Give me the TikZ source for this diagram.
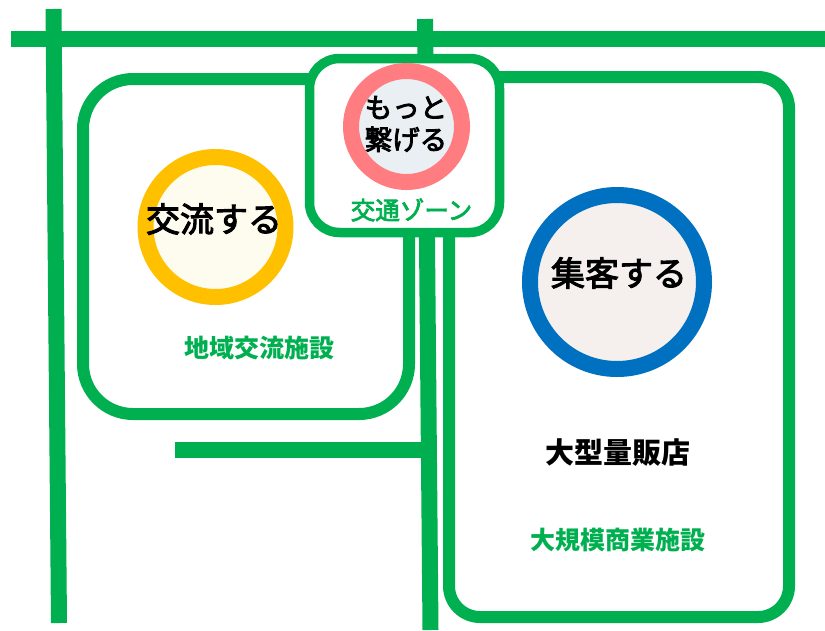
\documentclass[tikz,border=0pt]{standalone}
\usepackage{fontspec}
\setmainfont{Noto Sans CJK JP}
\newfontfamily\jpfont{Noto Sans CJK JP}
\newfontfamily\jpmedium{Noto Sans CJK JP}[FakeBold=3]
\definecolor{roadgreen}{HTML}{00B050}
\definecolor{ringyellow}{HTML}{FFC000}
\definecolor{ringred}{HTML}{FF7C80}
\definecolor{ringblue}{HTML}{0070C0}
\definecolor{fillyellow}{HTML}{FEFBEF}
\definecolor{fillred}{HTML}{EAEFF3}
\definecolor{fillblue}{HTML}{F5F0EE}
\begin{document}
\begin{tikzpicture}[x=1pt,y=-1pt,
  road/.style={draw=roadgreen,line width=16pt},
  areabox/.style={draw=roadgreen,line width=12pt},
  zonebox/.style={draw=roadgreen,line width=9.5pt,fill=white,rounded corners=30pt},
  ring/.style={circle,line width=16pt,inner sep=0pt},
  ringtext/.style={inner sep=0pt,text=black,font=\jpmedium\fontsize{34}{40}\selectfont},
  greenlabel/.style={inner sep=0pt,text=roadgreen,font=\jpfont\bfseries\fontsize{25}{30}\selectfont}]
\useasboundingbox (0,0) rectangle (825,630);
\fill[white] (0,0) rectangle (825,630);
% roads
\coordinate (topL) at (11,39);
\coordinate (topR) at (825,39);
\coordinate (leftT) at (53.5,9);
\coordinate (leftB) at (59,623);
\coordinate (midT) at (425,19);
\coordinate (midB) at (430.5,630);
\coordinate (stubL) at (175,449.5);
\coordinate (stubR) at (428,449.5);
\draw[road] (topL) -- (topR);
\draw[road] (leftT) -- (leftB);
\draw[road] (midT) -- (midB);
\draw[road] (stubL) -- (stubR);
% area boxes
\draw[areabox,rounded corners=50pt] (83,79) rectangle (409,414);
\draw[areabox,rounded corners=31pt] (449,77) rectangle (789,617);
% traffic zone box
\draw[zonebox] (309.5,58.5) rectangle (499.5,232.5);
% circles
\node[ring,draw=ringyellow,fill=fillyellow,minimum size=140pt] (cy) at (215.5,227) {};
\node[ring,draw=ringred,fill=fillred,minimum size=111pt] (cr) at (406.5,126.5) {};
\node[ring,draw=ringblue,fill=fillblue,minimum size=174pt] (cb) at (617,282) {};
% texts
\node[ringtext] (ty) at (214,219) {交流する};
\node[ringtext] (tb) at (619,273) {集客する};
\node[ringtext,align=center,font=\jpmedium\fontsize{27.5}{32}\selectfont] (tr) at (406,124) {もっと\\繋げる};
\node[greenlabel,font=\jpmedium\fontsize{24.5}{28}\selectfont] (tz) at (411.5,210) {交通ゾーン};
\node[greenlabel] (tl) at (259,348) {地域交流施設};
\node[greenlabel] (tc) at (617.5,540) {大規模商業施設};
\node[inner sep=0pt,text=black,font=\jpfont\bfseries\fontsize{29}{34}\selectfont] (ts) at (618,453) {大型量販店};
\end{tikzpicture}
\end{document}
